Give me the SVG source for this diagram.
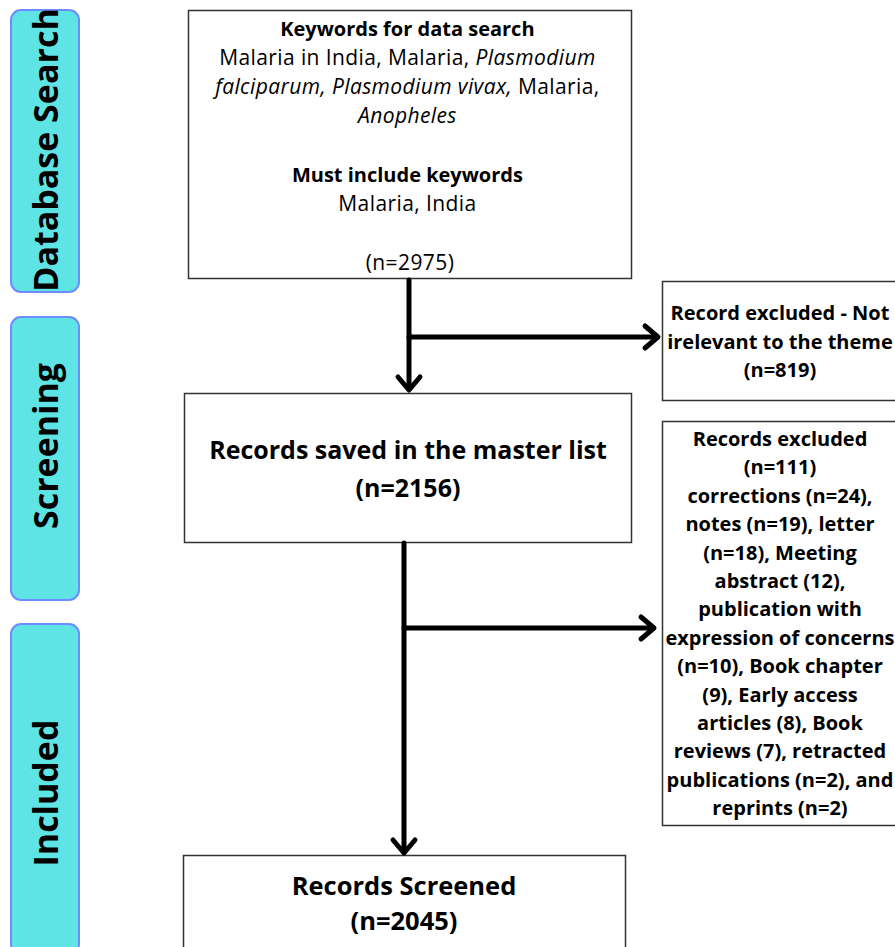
<svg xmlns="http://www.w3.org/2000/svg" width="895" height="947" viewBox="0 0 895 947">
<style>
.stage{fill:#5ee4e4;stroke:#6d8cff;stroke-width:2}
.stxt{font-family:"Open Sans","Liberation Sans",sans-serif;font-weight:bold;font-size:34px;fill:#000;text-anchor:middle;dominant-baseline:central}
.box{fill:#fff;stroke:#333;stroke-width:1.5}
.t{font-family:"Open Sans","Liberation Sans",sans-serif;font-size:20px;fill:#000;text-anchor:middle}
.r{font-size:21px;font-weight:normal;letter-spacing:0.4px}
.b{font-weight:bold}
.big{font-size:25px;font-weight:bold}
.conn{fill:none;stroke:#000;stroke-width:5;stroke-linecap:round;stroke-linejoin:round}
</style>
<rect width="895" height="947" fill="#fff"/>
<g id="stage-database">
<rect class="stage" x="11" y="10" width="68" height="282" rx="10"/>
<text class="stxt" transform="translate(45 150) rotate(-90)">Database Search</text>
</g>
<g id="stage-screening">
<rect class="stage" x="11" y="317" width="68" height="283" rx="10"/>
<text class="stxt" transform="translate(45 446) rotate(-90)">Screening</text>
</g>
<g id="stage-included">
<rect class="stage" x="11" y="624" width="68" height="330" rx="10"/>
<text class="stxt" transform="translate(45 793) rotate(-90)">Included</text>
</g>
<g id="search">
<rect class="box" x="188.5" y="10.5" width="443" height="268"/>
<text class="t" x="410" y="36"><tspan class="b">Keywords for data search</tspan>
<tspan x="410" dy="29" class="r">Malaria in India, Malaria, <tspan font-style="italic">Plasmodium</tspan></tspan>
<tspan x="410" dy="29" class="r"><tspan font-style="italic">falciparum, Plasmodium vivax,</tspan> Malaria,</tspan>
<tspan x="410" dy="29" class="r" font-style="italic">Anopheles</tspan>
<tspan x="410" dy="59" class="b">Must include keywords</tspan>
<tspan x="410" dy="29" class="r">Malaria, India</tspan>
<tspan x="410" dy="59" class="r">(n=2975)</tspan></text>
</g>
<g id="master">
<rect class="box" x="184.5" y="393.5" width="447" height="149"/>
<text class="t big" x="408" y="459">Records saved in the master list<tspan x="408" dy="38">(n=2156)</tspan></text>
</g>
<g id="excl1">
<rect class="box" x="662.5" y="281.5" width="240" height="119"/>
<text class="t b" x="780" y="320">Record excluded - Not<tspan x="780" dy="28.5">irelevant to the theme</tspan><tspan x="780" dy="28.5">(n=819)</tspan></text>
</g>
<g id="excl2">
<rect class="box" x="662.5" y="421.5" width="240" height="404"/>
<text class="t b" x="780" y="446">Records excluded<tspan x="780" dy="28.4">(n=111)</tspan><tspan x="780" dy="28.4">corrections (n=24),</tspan><tspan x="780" dy="28.4">notes (n=19), letter</tspan><tspan x="780" dy="28.4">(n=18), Meeting</tspan><tspan x="780" dy="28.4">abstract (12),</tspan><tspan x="780" dy="28.4">publication with</tspan><tspan x="780" dy="28.4">expression of concerns</tspan><tspan x="780" dy="28.4">(n=10), Book chapter</tspan><tspan x="780" dy="28.4">(9), Early access</tspan><tspan x="780" dy="28.4">articles (8), Book</tspan><tspan x="780" dy="28.4">reviews (7), retracted</tspan><tspan x="780" dy="28.4">publications (n=2), and</tspan><tspan x="780" dy="28.4">reprints (n=2)</tspan></text>
</g>
<g id="screened">
<rect class="box" x="183.5" y="855.5" width="442" height="100"/>
<text class="t big" x="404" y="895" style="font-size:25.5px">Records Screened<tspan x="404" dy="35">(n=2045)</tspan></text>
</g>
<g id="connectors">
<path class="conn" d="M409 280 V389"/>
<path class="conn" d="M398 377 L409 390 L420 377"/>
<path class="conn" d="M409 337 H656"/>
<path class="conn" d="M645 326 L658 337 L645 348"/>
<path class="conn" d="M404 543 V852"/>
<path class="conn" d="M393 840 L404 853 L415 840"/>
<path class="conn" d="M404 628 H652"/>
<path class="conn" d="M641 617 L654 628 L641 639"/>
</g>
</svg>
